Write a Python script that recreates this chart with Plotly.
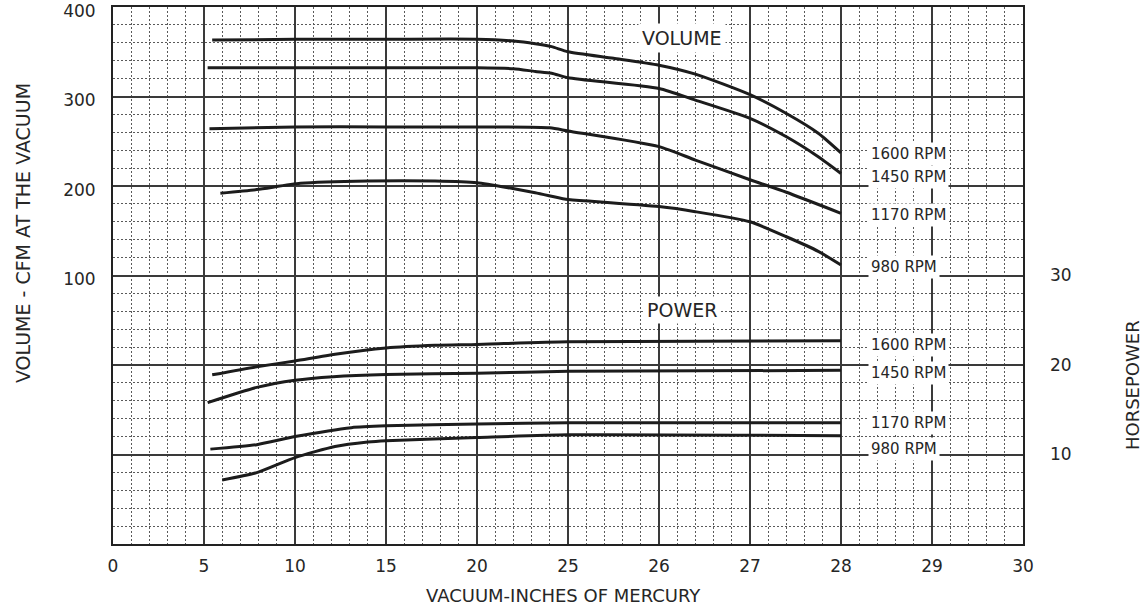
import plotly.graph_objects as go

# ---------------- data ----------------
# x axis: vacuum, inches of mercury (scale 5"/division up to 25, then 1"/division)
x_ticks = [0, 5, 10, 15, 20, 25, 26, 27, 28, 29, 30]
cfm_ticks = [100, 200, 300, 400]
hp_ticks = [10, 20, 30]
rpm_labels = ["1600 RPM", "1450 RPM", "1170 RPM", "980 RPM"]

# Volume (CFM at the vacuum)
vol_1600_x = [5.45, 10, 15, 20, 22, 23.2, 24.1, 25, 25.5, 26, 26.4, 27, 27.4, 27.75, 28]
vol_1600_y = [363, 364, 364, 364, 362, 359, 355.7, 350, 342.7, 335, 325, 302, 281, 259, 237]

vol_1450_x = [5.2, 10, 15, 20, 22, 23.2, 24.1, 25, 26, 26.4, 27, 27.4, 27.75, 28]
vol_1450_y = [332, 332, 332, 332, 331, 328, 326, 321, 309, 296, 275.6, 255, 232.7, 214]

vol_1170_x = [5.3, 10, 15, 20, 24, 25, 26, 26.4, 27, 27.4, 28]
vol_1170_y = [264, 266, 266, 266, 265, 261.5, 244, 229, 207, 193, 169.5]

vol_980_x = [5.9, 7.9, 10.3, 14, 17.7, 20, 21.9, 23.2, 24.8, 25, 26, 26.4, 27, 27.4, 27.75, 28]
vol_980_y = [192, 196, 203, 205.6, 205.6, 203.7, 197.4, 192.5, 185.5, 185, 177, 171.3, 160, 143.3, 127, 111.7]

# Power (horsepower)
pw_1600_x = [5.45, 7.9, 10, 12.2, 15, 17.7, 20, 25, 28]
pw_1600_y = [18.9, 19.8, 20.45, 21.2, 21.9, 22.2, 22.3, 22.6, 22.7]

pw_1450_x = [5.2, 7.9, 10, 12.1, 15, 20, 25, 28]
pw_1450_y = [15.8, 17.5, 18.3, 18.7, 18.95, 19.07, 19.3, 19.4]

pw_1170_x = [5.35, 7.9, 10, 13.1, 15, 20, 25, 28]
pw_1170_y = [10.6, 11.1, 12.0, 13.0, 13.2, 13.4, 13.55, 13.55]

pw_980_x = [6.0, 7.9, 10, 12.2, 14, 15, 20, 25, 28]
pw_980_y = [7.15, 7.97, 9.65, 10.9, 11.4, 11.55, 11.9, 12.2, 12.1]


# piecewise vacuum scale of the chart paper
def axis_pos(v):
    return v / 5.0 if v <= 25 else 5.0 + (v - 25.0)


INK = "#1c1c1c"
TXT = "#262626"
FONT = "DejaVu Sans"

fig = go.Figure()

volume = [(vol_1600_x, vol_1600_y), (vol_1450_x, vol_1450_y),
          (vol_1170_x, vol_1170_y), (vol_980_x, vol_980_y)]
power = [(pw_1600_x, pw_1600_y), (pw_1450_x, pw_1450_y),
         (pw_1170_x, pw_1170_y), (pw_980_x, pw_980_y)]

for (xs, ys), name in zip(volume, rpm_labels):
    fig.add_trace(go.Scatter(
        x=[axis_pos(v) for v in xs], y=ys, mode="lines", name="Volume " + name,
        line=dict(color=INK, width=3, shape="spline", smoothing=0.6),
        showlegend=False, yaxis="y", hoverinfo="skip"))

for (xs, ys), name in zip(power, rpm_labels):
    fig.add_trace(go.Scatter(
        x=[axis_pos(v) for v in xs], y=ys, mode="lines", name="Power " + name,
        line=dict(color=INK, width=3, shape="spline", smoothing=0.6),
        showlegend=False, yaxis="y2", hoverinfo="skip"))

major = dict(showgrid=True, gridcolor="#3a3a3a", gridwidth=1.5)
minor_style = dict(showgrid=True, gridcolor="#5a5a5a", griddash="2px,2px", gridwidth=1)

fig.update_layout(
    width=1145, height=609,
    margin=dict(l=113, r=122, t=7, b=65, autoexpand=False),
    paper_bgcolor="white", plot_bgcolor="white",
    font=dict(family=FONT, color=TXT),
    xaxis=dict(
        range=[0, 10], tickmode="array",
        tickvals=[axis_pos(v) for v in x_ticks], ticktext=[str(v) for v in x_ticks],
        minor=dict(tickmode="linear", tick0=0, dtick=0.2, **minor_style),
        showline=True, mirror=True, linecolor="#222", linewidth=2,
        zeroline=False, ticks="", ticklabelstandoff=6, ticklabeloverflow="allow",
        tickfont=dict(size=17, color=TXT), **major),
    yaxis=dict(
        range=[-200, 400], tickmode="array",
        tickvals=[-200, -100, 0] + cfm_ticks,
        ticktext=["", "", ""] + [str(v) for v in cfm_ticks],
        minor=dict(tickmode="linear", tick0=0, dtick=20, **minor_style),
        showline=True, mirror=True, linecolor="#222", linewidth=2,
        zeroline=False, ticks="", ticklabelstandoff=12, ticklabelshift=4,
        ticklabeloverflow="allow",
        tickfont=dict(size=17, color=TXT), **major),
    yaxis2=dict(
        range=[0, 60], overlaying="y", side="right", tickmode="array",
        tickvals=hp_ticks, ticktext=[str(v) for v in hp_ticks],
        showgrid=False, zeroline=False, showline=False, ticks="",
        ticklabelstandoff=26, ticklabeloverflow="allow",
        tickfont=dict(size=17, color=TXT)),
)

ann = []
# curve group titles
ann.append(dict(x=axis_pos(26.25), y=365, xref="x", yref="y", text="VOLUME",
                showarrow=False, font=dict(size=19, color=TXT),
                bgcolor="white", borderpad=3))
ann.append(dict(x=axis_pos(26.25), y=26.1, xref="x", yref="y2", text="POWER",
                showarrow=False, font=dict(size=19, color=TXT),
                bgcolor="white", borderpad=2))
# rpm labels
vol_label_y = [235.8, 210, 167.6, 110]
pw_label_y = [22.2, 19.1, 13.5, 10.6]
for t, yv in zip(rpm_labels, vol_label_y):
    ann.append(dict(x=axis_pos(28.3), y=yv, xref="x", yref="y", text=t,
                    xanchor="left", yanchor="middle", showarrow=False,
                    font=dict(size=15, color=TXT), bgcolor="white", borderpad=2))
for t, yv in zip(rpm_labels, pw_label_y):
    ann.append(dict(x=axis_pos(28.3), y=yv, xref="x", yref="y2", text=t,
                    xanchor="left", yanchor="middle", showarrow=False,
                    font=dict(size=15, color=TXT), bgcolor="white", borderpad=2))
# axis titles
ann.append(dict(x=0.4956, y=-0.095, xref="paper", yref="paper",
                xanchor="center", yanchor="middle",
                text="VACUUM-INCHES OF MERCURY", showarrow=False,
                font=dict(size=18, color=TXT)))
ann.append(dict(x=-0.0989, y=0.579, xref="paper", yref="paper",
                xanchor="center", yanchor="middle",
                text="VOLUME - CFM AT THE VACUUM", showarrow=False, textangle=-90,
                font=dict(size=19, color=TXT)))
ann.append(dict(x=1.1198, y=0.296, xref="paper", yref="paper",
                xanchor="center", yanchor="middle",
                text="HORSEPOWER", showarrow=False, textangle=-90,
                font=dict(size=18, color=TXT)))
fig.update_layout(annotations=ann)

# remove the default 8px page margin so the figure sits at the window origin
fig.write_html("out.html",
               config={"displayModeBar": False},
               post_script="document.body.style.margin='0px';"
                           "document.body.style.overflow='hidden';")
